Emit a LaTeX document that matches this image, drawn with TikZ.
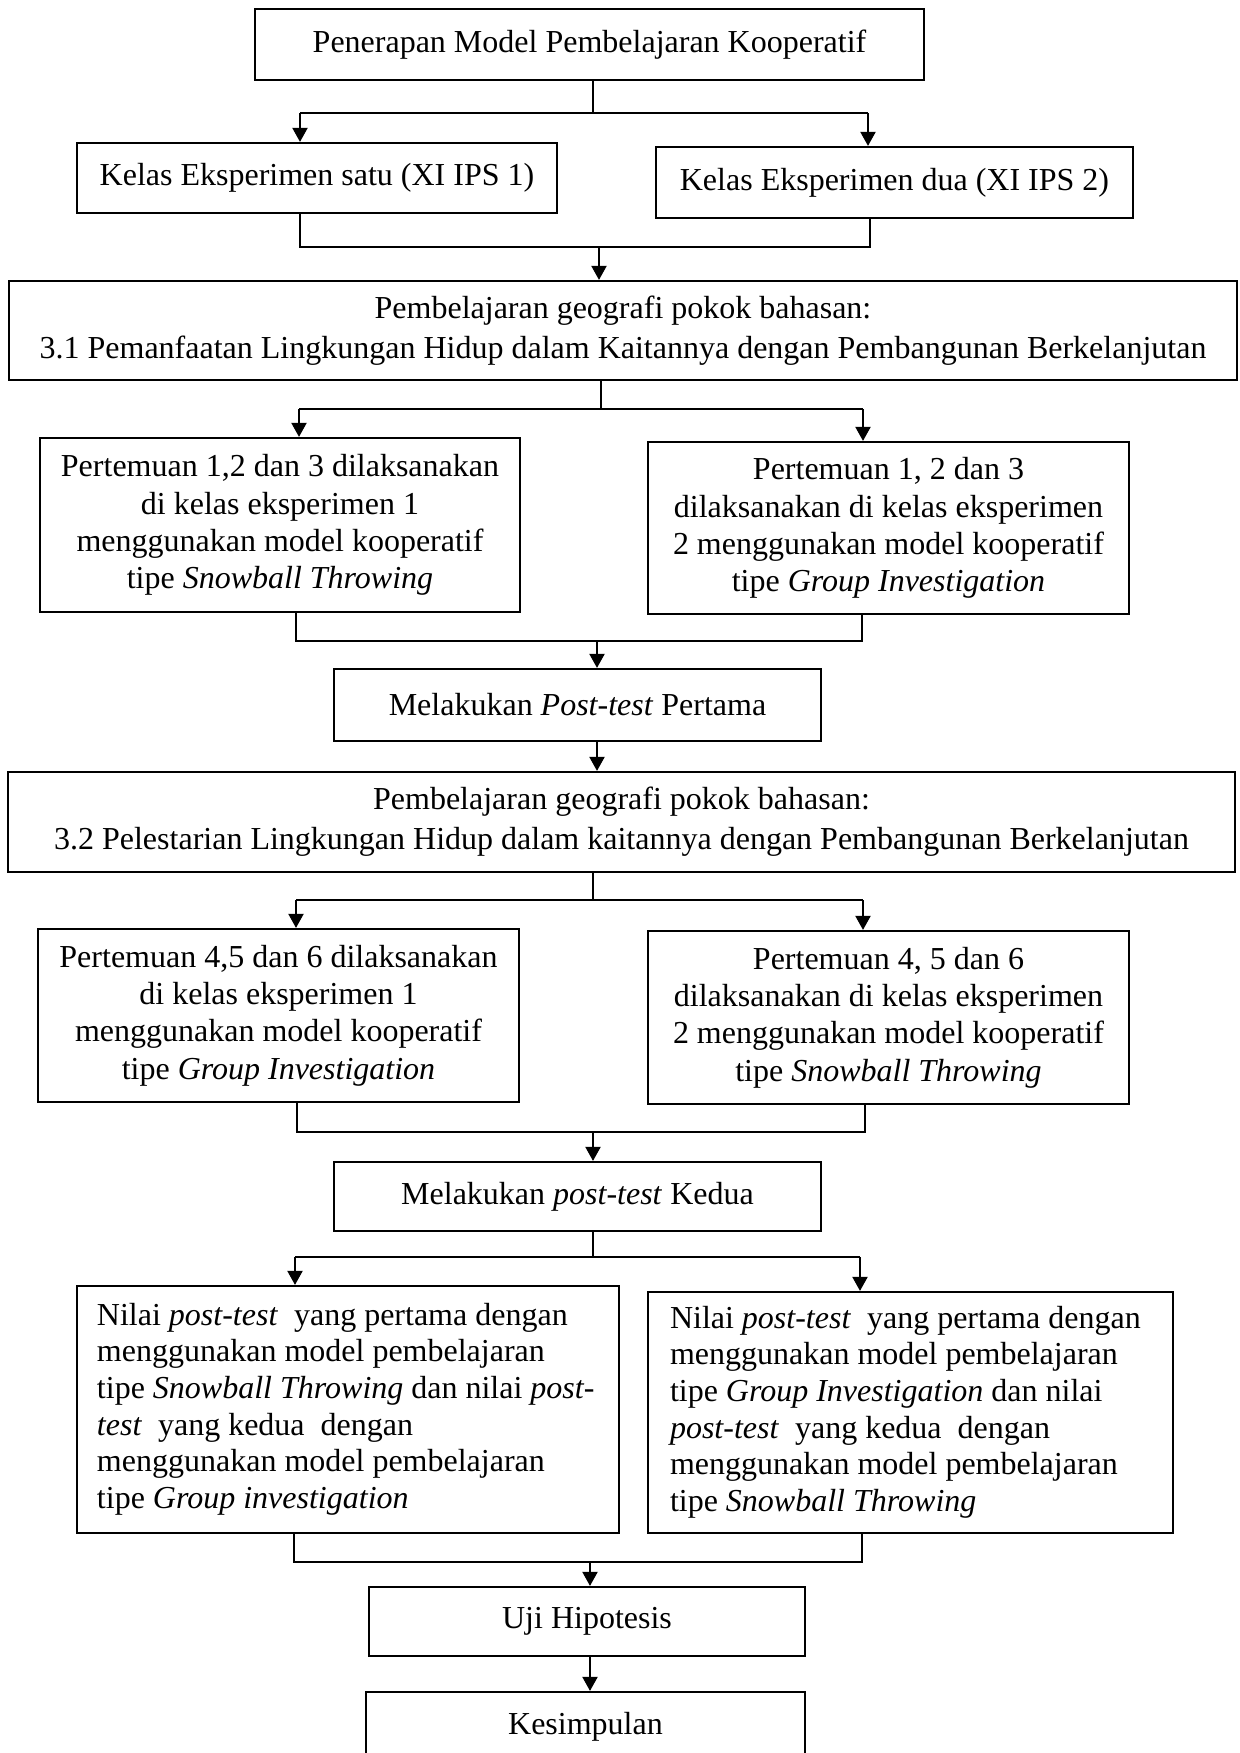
\documentclass[tikz,border=0pt]{standalone}
\usepackage{fontspec}
\setmainfont{Liberation Serif}
\usetikzlibrary{arrows.meta}
\newcommand\leftblock[1]{\makebox[251pt][l]{\begin{tabular}{@{}l@{}}#1\end{tabular}}}
\begin{document}
\begin{tikzpicture}[x=0.5pt,y=-0.5pt,
  box/.style 2 args={draw, line width=1.1pt, minimum width=#1*0.5pt, minimum height=#2*0.5pt,
    inner sep=0pt, align=center, font=\fontsize{16pt}{18.7pt}\selectfont},
  wide/.style={font=\fontsize{16pt}{20pt}\selectfont},
  ln/.style={line width=1pt},
  arr/.style={line width=1pt, -{Triangle[length=7pt,width=7.5pt]}}]
\useasboundingbox (0,0) rectangle (1239,1753);
\clip (0,0) rectangle (1239,1753);

% boxes
\node[box={669}{71}] (b1) at (589.5,44.5) {Penerapan Model Pembelajaran Kooperatif};
\node[box={480}{70}] (b2l) at (317,178) {Kelas Eksperimen satu (XI IPS 1)};
\node[box={477}{71}] (b2r) at (894.5,182.5) {Kelas Eksperimen dua (XI IPS 2)};
\node[box={1228}{99},wide] (b3) at (623,330.5) {Pembelajaran geografi pokok bahasan:\\3.1 Pemanfaatan Lingkungan Hidup dalam Kaitannya dengan Pembangunan Berkelanjutan};
\node[box={480}{174}] (b4l) at (280,525) {Pertemuan 1,2 dan 3 dilaksanakan\\di kelas eksperimen 1\\menggunakan model kooperatif\\tipe \textit{Snowball Throwing}};
\node[box={481}{172}] (b4r) at (888.5,528) {Pertemuan 1, 2 dan 3\\dilaksanakan di kelas eksperimen\\2 menggunakan model kooperatif\\tipe \textit{Group Investigation}};
\node[box={487}{72}] (b5) at (577.5,705) {Melakukan \textit{Post-test} Pertama};
\node[box={1227}{100},wide] (b6) at (621.5,822) {Pembelajaran geografi pokok bahasan:\\3.2 Pelestarian Lingkungan Hidup dalam kaitannya dengan Pembangunan Berkelanjutan};
\node[box={481}{173}] (b7l) at (278.5,1015.5) {Pertemuan 4,5 dan 6 dilaksanakan\\di kelas eksperimen 1\\menggunakan model kooperatif\\tipe \textit{Group Investigation}};
\node[box={481}{173}] (b7r) at (888.5,1017.5) {Pertemuan 4, 5 dan 6\\dilaksanakan di kelas eksperimen\\2 menggunakan model kooperatif\\tipe \textit{Snowball Throwing}};
\node[box={487}{69}] (b8) at (577.5,1196.5) {Melakukan \textit{post-test} Kedua};
\node[box={542}{247}, font=\fontsize{16pt}{18.35pt}\selectfont, inner xsep=10pt] (b9l) at (348,1409.5)
  {\leftblock{Nilai \textit{post-test}\ \ yang pertama dengan\\menggunakan model pembelajaran\\tipe \textit{Snowball Throwing} dan nilai \textit{post-}\\\textit{test}\ \ yang kedua\ \ dengan\\menggunakan model pembelajaran\\tipe \textit{Group investigation}}};
\node[box={525}{241}, font=\fontsize{16pt}{18.35pt}\selectfont, inner xsep=11pt] (b9r) at (910.5,1412.5)
  {\makebox[240.5pt][l]{\begin{tabular}{@{}l@{}}Nilai \textit{post-test}\ \ yang pertama dengan\\menggunakan model pembelajaran\\tipe \textit{Group Investigation} dan nilai\\\textit{post-test}\ \ yang kedua\ \ dengan\\menggunakan model pembelajaran\\tipe \textit{Snowball Throwing}\end{tabular}}};
\node[box={436}{69}] (b10) at (587,1621.5) {Uji Hipotesis};
\node[box={439}{70}] (b11) at (585.5,1727) {Kesimpulan};

% fork 1
\coordinate (j1) at (593,113); \coordinate (j1a) at (300,113); \coordinate (j1b) at (868,113);
\draw[ln] (b1.south -| j1) -- (j1);
\draw[ln] (j1a) -- (j1b);
\draw[arr] (j1a) -- (j1a |- b2l.north);
\draw[arr] (j1b) -- (j1b |- b2r.north);
% merge 1
\coordinate (m1) at (599,247); \coordinate (m1a) at (300,247); \coordinate (m1b) at (870,247);
\draw[ln] (b2l.south -| m1a) -- (m1a) -- (m1b) -- (b2r.south -| m1b);
\draw[arr] (m1) -- (m1 |- b3.north);
% fork 2
\coordinate (j2) at (601,409); \coordinate (j2a) at (299,409); \coordinate (j2b) at (863,409);
\draw[ln] (b3.south -| j2) -- (j2);
\draw[ln] (j2a) -- (j2b);
\draw[arr] (j2a) -- (j2a |- b4l.north);
\draw[arr] (j2b) -- (j2b |- b4r.north);
% merge 2
\coordinate (m2) at (597,641); \coordinate (m2a) at (296,641); \coordinate (m2b) at (862,641);
\draw[ln] (b4l.south -| m2a) -- (m2a) -- (m2b) -- (b4r.south -| m2b);
\draw[arr] (m2) -- (m2 |- b5.north);
% b5 -> b6
\coordinate (s5) at (597,741);
\draw[arr] (b5.south -| s5) -- (s5 |- b6.north);
% fork 3
\coordinate (j3) at (593,900); \coordinate (j3a) at (296,900); \coordinate (j3b) at (863,900);
\draw[ln] (b6.south -| j3) -- (j3);
\draw[ln] (j3a) -- (j3b);
\draw[arr] (j3a) -- (j3a |- b7l.north);
\draw[arr] (j3b) -- (j3b |- b7r.north);
% merge 3
\coordinate (m3) at (593,1132); \coordinate (m3a) at (297,1132); \coordinate (m3b) at (865,1132);
\draw[ln] (b7l.south -| m3a) -- (m3a) -- (m3b) -- (b7r.south -| m3b);
\draw[arr] (m3) -- (m3 |- b8.north);
% fork 4
\coordinate (j4) at (593,1257); \coordinate (j4a) at (295,1257); \coordinate (j4b) at (860,1257);
\draw[ln] (b8.south -| j4) -- (j4);
\draw[ln] (j4a) -- (j4b);
\draw[arr] (j4a) -- (j4a |- b9l.north);
\draw[arr] (j4b) -- (j4b |- b9r.north);
% merge 4
\coordinate (m4) at (590,1562); \coordinate (m4a) at (294,1562); \coordinate (m4b) at (862,1562);
\draw[ln] (b9l.south -| m4a) -- (m4a) -- (m4b) -- (b9r.south -| m4b);
\draw[arr] (m4) -- (m4 |- b10.north);
% b10 -> b11
\coordinate (s10) at (590,1656);
\draw[arr] (b10.south -| s10) -- (s10 |- b11.north);
\end{tikzpicture}
\end{document}
